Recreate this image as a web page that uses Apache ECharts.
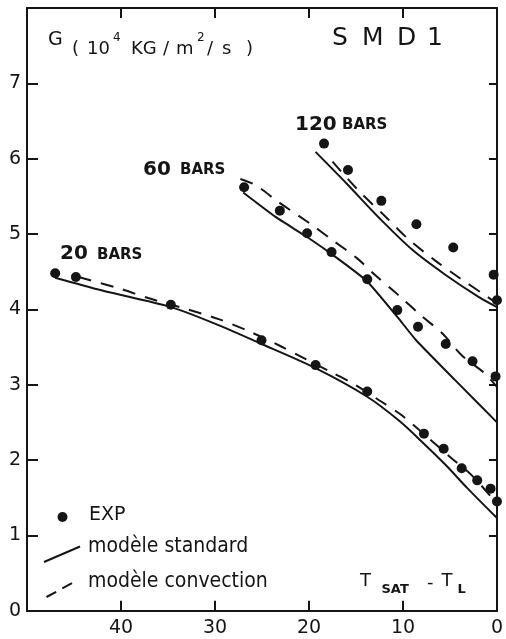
<!DOCTYPE html>
<html><head><meta charset="utf-8">
<script src="https://cdn.jsdelivr.net/npm/echarts/dist/echarts.min.js"></script>
<style>html,body{margin:0;padding:0;background:#fff}#c{width:506px;height:639px}</style>
</head><body><div id="c"></div>
<script>
// x: T_SAT - T_L, y: G (10^4 kg/m2/s)
const X_TICK_LABELS = [40, 30, 20, 10, 0];
const Y_TICK_LABELS = [0, 1, 2, 3, 4, 5, 6, 7];

// 20 bars
const exp20  = [[47.0,4.48],[44.8,4.43],[34.7,4.06],[25.05,3.59],[19.3,3.26],[13.8,2.91],[7.77,2.35],[5.67,2.15],[3.75,1.89],[2.1,1.73],[0.68,1.62],[0,1.45]];
const std20  = [[47,4.42],[42,4.25],[34.7,4.03],[30,3.81],[25.4,3.56],[19.3,3.22],[13.8,2.84],[10.4,2.52],[7.8,2.22],[5.5,1.94],[3.1,1.62],[0,1.23]];
const conv20 = [[44.5,4.43],[40,4.27],[37.1,4.15],[32.9,4.0],[29.6,3.87],[26.4,3.71],[23,3.51],[20.5,3.35],[17.7,3.17],[15.1,3.0],[12.5,2.79],[10.2,2.6],[6.9,2.25],[4.8,2.02],[2.7,1.8],[0,1.42]];
// 60 bars
const exp60  = [[26.9,5.62],[23.1,5.31],[20.2,5.01],[17.6,4.76],[13.8,4.40],[10.6,3.99],[8.4,3.77],[5.45,3.54],[2.6,3.31],[0.15,3.11]];
const std60  = [[27,5.55],[23.6,5.23],[20.2,4.96],[17,4.68],[13.8,4.37],[10.6,3.9],[8.6,3.59],[4.45,3.06],[0,2.5]];
const conv60 = [[27.3,5.73],[25.7,5.65],[23.3,5.43],[19.8,5.13],[17.4,4.91],[14.9,4.68],[13,4.46],[10.4,4.18],[8.1,3.92],[5.8,3.68],[3.75,3.39],[1.3,3.15],[0,2.97]];
// 120 bars
const exp120  = [[18.4,6.2],[15.85,5.85],[12.3,5.44],[8.57,5.13],[4.65,4.82],[0.35,4.46],[0,4.12]];
const std120  = [[19.3,6.09],[16,5.67],[12.5,5.21],[9,4.79],[5.5,4.46],[2,4.17],[0,4.03]];
const conv120 = [[17.5,5.96],[14.6,5.56],[11.85,5.23],[9.5,4.94],[6.6,4.65],[3.9,4.41],[1.3,4.19],[0,4.08]];

const INK = '#151515';
const FONT = "'DejaVu Sans'";
const COND = "'DejaVu Sans Condensed'";

const chart = echarts.init(document.getElementById('c'), null, {renderer: 'canvas'});

function solid(data, s){ return {type:'line', data, xAxisIndex:0, yAxisIndex:0, showSymbol:false, smooth:(s===undefined?0.3:s), lineStyle:{color:INK, width:2}, z:3, silent:true}; }
function dashed(data){ return {type:'line', data, xAxisIndex:0, yAxisIndex:0, showSymbol:false, smooth:0.3, lineStyle:{color:INK, width:2, type:[13,10]}, z:3, silent:true}; }
function dots(data){ return {type:'scatter', data, xAxisIndex:0, yAxisIndex:0, symbolSize:10, itemStyle:{color:INK, opacity:1}, z:4, silent:true}; }

function txt(text, x, y, size, opts){
  opts = opts || {};
  return {type:'text', x, y, z:10, silent:true, style:{
    text, fill: INK, fontSize: size, fontFamily: opts.family || FONT,
    fontWeight: opts.weight || 'normal', align: opts.align || 'left', verticalAlign: 'middle'}};
}

const axisCommon = {
  type:'value', splitLine:{show:false},
  axisLine:{show:true, onZero:false, lineStyle:{color:INK, width:2}},
};

const xShown = new Set(X_TICK_LABELS);
const yShown = new Set(Y_TICK_LABELS);

const option = {
  backgroundColor:'#fff',
  animation:false,
  grid:{left:27, right:3.5, top:8, bottom:28.3, containLabel:false},
  xAxis:[
    Object.assign({}, axisCommon, {position:'bottom', min:0, max:50, interval:10, inverse:true,
      axisTick:{show:true, inside:true, length:10, lineStyle:{color:INK, width:2}},
      axisLabel:{show:true, margin:8, fontSize:19, color:INK, fontFamily:FONT,
        formatter: v => xShown.has(v) ? String(v) : ''}}),
    Object.assign({}, axisCommon, {position:'top', min:0, max:50, interval:10, inverse:true,
      axisTick:{show:true, inside:true, length:10, lineStyle:{color:INK, width:2}},
      axisLabel:{show:false}})
  ],
  yAxis:[
    Object.assign({}, axisCommon, {position:'left', min:0, max:8, interval:1,
      axisTick:{show:true, inside:true, length:11, lineStyle:{color:INK, width:2}},
      axisLabel:{show:true, margin:6, fontSize:19, color:INK, fontFamily:FONT,
        formatter: v => yShown.has(v) ? String(v) : ''}}),
    Object.assign({}, axisCommon, {position:'right', min:0, max:8, interval:1,
      axisTick:{show:true, inside:true, length:8, lineStyle:{color:INK, width:2}},
      axisLabel:{show:false}})
  ],
  series:[
    solid(std20), dashed(conv20), dots(exp20),
    solid(std60, 0.15), dashed(conv60), dots(exp60),
    solid(std120), dashed(conv120), dots(exp120)
  ],
  graphic:[
    // title
    txt('G', 48, 40, 19),
    txt('(', 72, 49, 18),
    txt('10', 87, 49, 18),
    txt('4', 113, 38, 12),
    txt('KG', 131, 49, 18),
    txt('/', 163, 49, 18),
    txt('m', 176, 49, 18),
    txt('2', 197, 38, 12),
    txt('/', 207, 49, 18),
    txt('s', 222, 49, 18),
    txt(')', 246, 49, 18),
    txt('S', 332, 38, 25),
    txt('M', 362, 38, 25),
    txt('D', 397, 38, 25),
    txt('1', 427, 38, 25),
    // curve labels
    txt('120', 295, 124.5, 20, {weight:'bold'}),
    txt('BARS', 342, 125.5, 15, {weight:'bold'}),
    txt('60', 143, 169.5, 20, {weight:'bold'}),
    txt('BARS', 180, 170.5, 15, {weight:'bold'}),
    txt('20', 60, 253.5, 20, {weight:'bold'}),
    txt('BARS', 97, 255, 15, {weight:'bold'}),
    // legend
    {type:'circle', shape:{cx:62.5, cy:517, r:5}, style:{fill:INK}, silent:true, z:10},
    txt('EXP', 89, 515, 19),
    {type:'line', shape:{x1:44, y1:562, x2:80, y2:546.5}, style:{stroke:INK, lineWidth:2}, silent:true, z:10},
    txt('modèle standard', 88, 547, 21, {family:COND}),
    {type:'line', shape:{x1:46.5, y1:597, x2:77, y2:580.5}, style:{stroke:INK, lineWidth:2, lineDash:[11,7]}, silent:true, z:10},
    txt('modèle convection', 88, 582, 21, {family:COND}),
    // x axis name
    txt('T', 360, 581.5, 18),
    txt('SAT', 381.5, 590, 13, {weight:'bold'}),
    txt('-', 427, 583, 18),
    txt('T', 441.5, 581.5, 18),
    txt('L', 457.5, 590, 13, {weight:'bold'})
  ]
};
chart.setOption(option);
</script>
</body></html>
